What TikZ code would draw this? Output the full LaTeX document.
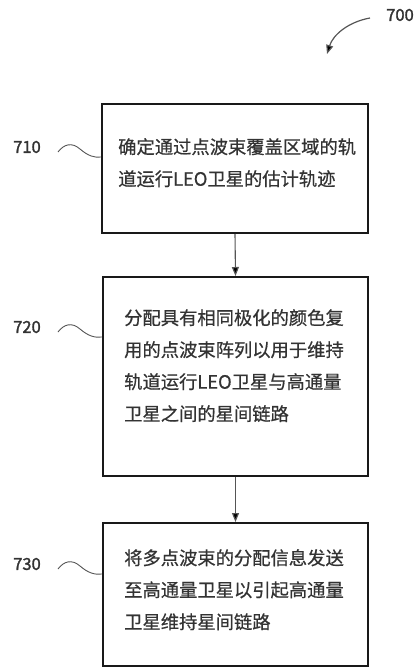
\documentclass[tikz,border=0pt]{standalone}
\usepackage{fontspec}
\newfontfamily\cjk[FakeBold=0.6]{Noto Sans CJK SC}
\newfontfamily\cjklab[FakeBold=1.6]{Noto Sans CJK SC}
\usetikzlibrary{arrows.meta}
\definecolor{txt}{HTML}{333333}
\definecolor{ln}{HTML}{555555}
\tikzset{
  stepbox/.style={draw=black!90, line width=2pt, inner sep=0pt},
  steptext/.style={anchor=north west, align=left, inner sep=0pt, text=txt, font=\cjk\fontsize{18.3}{32}\selectfont},
  reflabel/.style={text=txt, inner sep=0pt, font=\cjklab\fontsize{16.5}{18}\selectfont},
  squig/.style={draw=ln, line width=0.9pt},
  flow/.style={draw=ln, line width=1.1pt, -{Triangle[length=9pt,width=7pt,fill=black]}}
}
\begin{document}
\begin{tikzpicture}[x=1pt,y=-1pt]
\useasboundingbox (0,0) rectangle (417,671);
% boxes
\node[stepbox, minimum width=266pt, minimum height=129pt] (b710) at (235,168.5) {};
\node[stepbox, minimum width=265pt, minimum height=199pt] (b720) at (235.5,376.5) {};
\node[stepbox, minimum width=265pt, minimum height=143pt] (b730) at (235.5,594.5) {};
% texts
\node[steptext] (t710) at (118,138) {确定通过点波束覆盖区域的轨\\道运行LEO卫星的估计轨迹};
\node[steptext] (t720) at (124,309) {分配具有相同极化的颜色复\\用的点波束阵列以用于维持\\轨道运行LEO卫星与高通量\\卫星之间的星间链路};
\node[steptext] (t730) at (124,549) {将多点波束的分配信息发送\\至高通量卫星以引起高通量\\卫星维持星间链路};
% labels
\node[reflabel] (l710) at (27,147) {710};
\node[reflabel] (l720) at (27,327) {720};
\node[reflabel] (l730) at (27,564) {730};
\node[reflabel] (l700) at (400,15) {700};
% squiggles
\coordinate (s710) at (b710.west |- 0,157);
\coordinate (s720) at (b720.west |- 0,337);
\coordinate (s730) at (b730.west |- 0,574);
\draw[squig] (58,152) .. controls (64,144) and (72,142) .. (80,149) .. controls (88,156) and (95,158) .. (s710);
\draw[squig] (58,332) .. controls (64,324) and (72,322) .. (80,329) .. controls (88,336) and (95,338) .. (s720);
\draw[squig] (58,569) .. controls (64,561) and (72,559) .. (80,566) .. controls (88,573) and (95,575) .. (s730);
% 700 arrow
\coordinate (a700s) at (370,18);
\coordinate (a700e) at (327,54);
\draw[flow, line width=1.2pt] (a700s) .. controls (348,22) and (333,35) .. (a700e);
% flow arrows
\draw[flow] (b710.south) -- (b720.north);
\draw[flow] (b720.south) -- (b730.north);
\end{tikzpicture}
\end{document}
